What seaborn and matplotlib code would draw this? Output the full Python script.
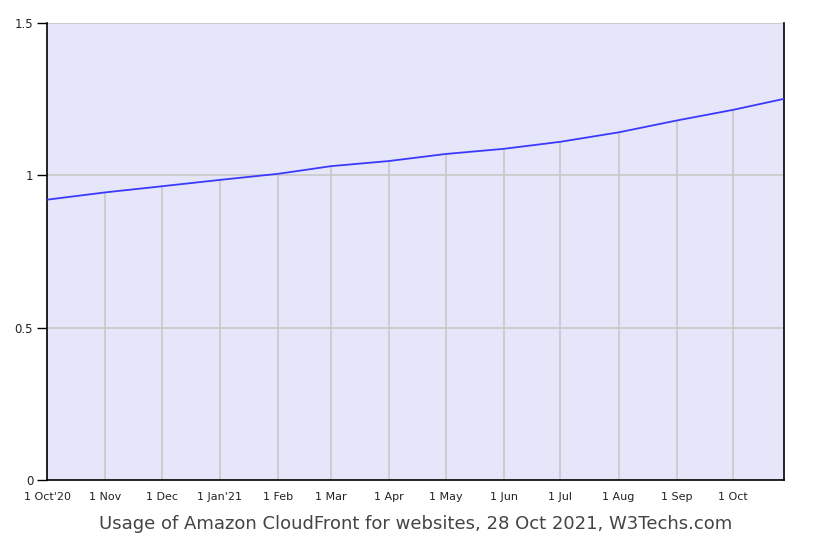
import pandas as pd
import matplotlib
matplotlib.use("Agg")
import matplotlib.pyplot as plt
import seaborn as sns

# Usage of Amazon CloudFront (% of websites)
dates = ["2020-10-01", "2020-11-01", "2020-12-01", "2021-01-01", "2021-02-01",
         "2021-03-01", "2021-04-01", "2021-05-01", "2021-06-01", "2021-07-01",
         "2021-08-01", "2021-09-01", "2021-10-01", "2021-10-28"]
usage = [0.920, 0.944, 0.964, 0.985, 1.005, 1.030, 1.047, 1.070, 1.087,
         1.110, 1.141, 1.180, 1.215, 1.251]
tick_labels = ["1 Oct'20", "1 Nov", "1 Dec", "1 Jan'21", "1 Feb", "1 Mar", "1 Apr",
               "1 May", "1 Jun", "1 Jul", "1 Aug", "1 Sep", "1 Oct"]
y_ticks = [0, 0.5, 1, 1.5]
y_tick_labels = ["0", "0.5", "1", "1.5"]

df = pd.DataFrame({"date": pd.to_datetime(dates), "usage": usage})
monthly = df.iloc[:len(tick_labels)]

sns.set_style("white")
plt.rcParams["font.family"] = ["DejaVu Sans"]

fig = plt.figure(figsize=(8.25, 5.5), dpi=100)
ax = fig.add_axes([0.057, 0.1273, 0.8933, 0.8309])
ax.set_facecolor("#e6e6fa")

# horizontal grid lines
for y in y_ticks[1:]:
    ax.axhline(y, color="#c8c8c8", lw=1.2, zorder=1)

# vertical grid lines only below the curve
ax.vlines(monthly["date"], 0, monthly["usage"], color="#c8c8c8", lw=1.2, zorder=1)

sns.lineplot(data=df, x="date", y="usage", color="#3a3aff", lw=1.3, ax=ax, zorder=3)

ax.set_xlim(df["date"].iloc[0], df["date"].iloc[-1])
ax.set_ylim(0, 1.5)
ax.set_xticks(monthly["date"])
ax.set_xticklabels(tick_labels, fontsize=8, color="#222222")
ax.set_yticks(y_ticks)
ax.set_yticklabels(y_tick_labels, fontsize=8.5, color="#222222")
ax.tick_params(axis="x", length=0, pad=9)
ax.tick_params(axis="y", length=7, width=1, color="black", pad=3, direction="out", left=True)

for side in ["left", "bottom", "right"]:
    ax.spines[side].set_color("black")
    ax.spines[side].set_linewidth(1.2)
ax.spines["top"].set_visible(False)

ax.set_xlabel("Usage of Amazon CloudFront for websites, 28 Oct 2021, W3Techs.com",
              fontsize=13, color="#444444", labelpad=9)
ax.set_ylabel("")

fig.savefig("out.png", dpi=100)
